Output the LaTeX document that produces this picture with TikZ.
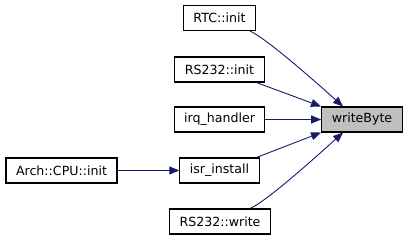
\documentclass[tikz,border=0pt]{standalone}
\usepackage{fontspec}
\setmainfont{DejaVu Sans}
\usetikzlibrary{arrows.meta}

\definecolor{edgeblue}{RGB}{25,25,112}
\definecolor{hlgray}{RGB}{191,191,191}

\begin{document}
\begin{tikzpicture}[x=1pt, y=-1pt,
        fn/.style = {draw=black, line width=1.1pt, fill=white, minimum height=25pt,
            inner xsep=10pt, font=\fontsize{12.6}{14}\selectfont},
        cur/.style = {fn, fill=hlgray},
        edge/.style = {draw=edgeblue, line width=0.9pt, -{Triangle[length=10pt, width=8pt]}}]
        \useasboundingbox (0, 0) rectangle (411, 240);

        % callers of writeByte
        \node[fn] (rtc) at (219.5, 18) {RTC::init};
        \node[fn] (rsinit) at (219.5, 69.5) {RS232::init};
        \node[fn] (irq) at (219.5, 119.5) {irq\_handler};
        \node[fn] (isr) at (219.5, 170.5) {isr\_install};
        \node[fn] (rswrite) at (220, 221.5) {RS232::write};
        \node[fn] (cpu) at (61.5, 170.5) {Arch::CPU::init};
        \node[cur] (wb) at (362, 119.5) {writeByte};

        \draw[edge] ([xshift=30.5pt]rtc.south) .. controls (266, 38) and (318, 84) .. ([xshift=-19pt]wb.north);
        \draw[edge] ([xshift=37pt]rsinit.south) -- ([xshift=-41pt]wb.north);
        \draw[edge] (irq.east) -- (wb.west);
        \draw[edge] ([xshift=37pt]isr.north) -- ([xshift=-41pt]wb.south);
        \draw[edge] ([xshift=30pt]rswrite.north) .. controls (266, 202) and (318, 155) .. ([xshift=-19pt]wb.south);
        \draw[edge] (cpu.east) -- (isr.west);
    \end{tikzpicture}
\end{document}
